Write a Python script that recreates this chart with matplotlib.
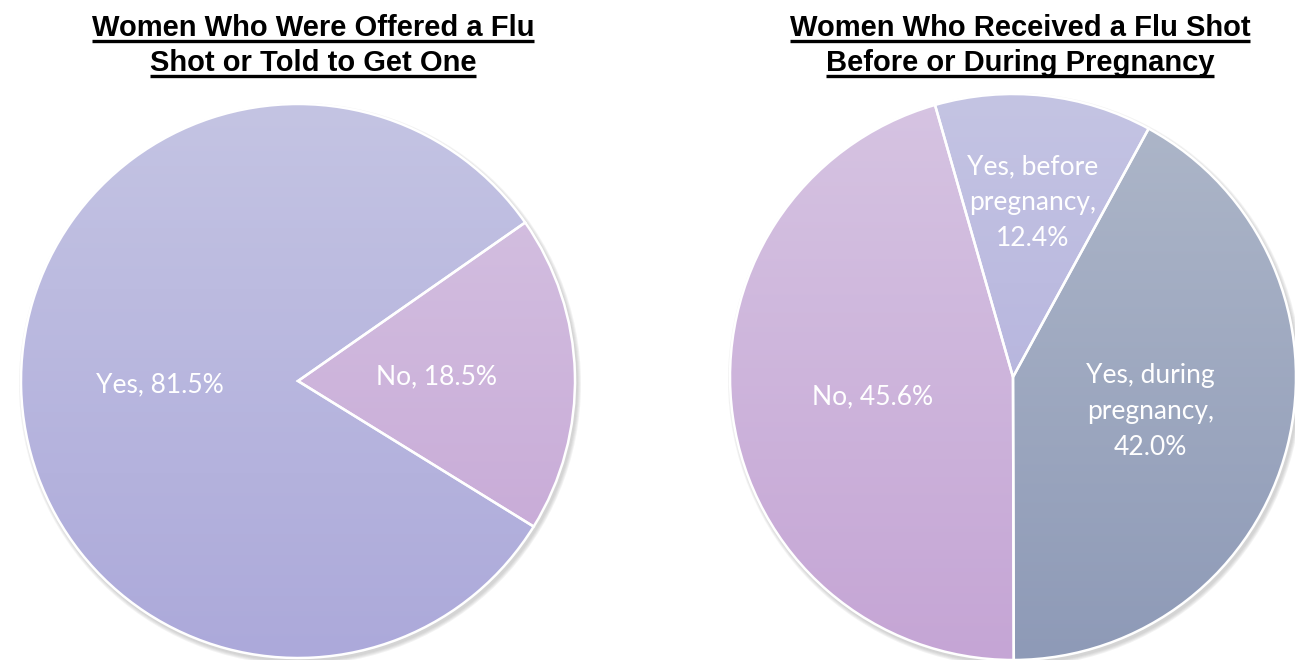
import matplotlib.pyplot as plt
import numpy as np
from matplotlib.patches import Circle
from matplotlib.colors import to_rgb

# data
offered_labels = ['Yes', 'No']
offered_values = [81.5, 18.5]
received_labels = ['Yes, before\npregnancy', 'Yes, during\npregnancy', 'No']
received_values = [12.4, 42.0, 45.6]

title_left = ['Women Who Were Offered a Flu', 'Shot or Told to Get One']
title_right = ['Women Who Received a Flu Shot', 'Before or During Pregnancy']

# top / bottom colour of each slice gradient
lavender = ('#c4c4e3', '#aca9da')
lilac = ('#d6c4e2', '#c5a5d5')
slate = ('#aeb7c9', '#8e9ab7')

fig = plt.figure(figsize=(12.95, 6.6), dpi=100)
ax = fig.add_axes([0, 0, 1, 1])


def gradient_fill(wedge, cx, cy, r, colors):
    t = np.linspace(0, 1, 256)[:, None]
    c0, c1 = np.array(to_rgb(colors[0])), np.array(to_rgb(colors[1]))
    img = (c0 * (1 - t) + c1 * t)[:, None, :]
    im = ax.imshow(img, extent=[cx - r, cx + r, cy - r, cy + r], origin='upper',
                   aspect='auto', interpolation='bilinear', zorder=1)
    im.set_clip_path(wedge)
    wedge.set_facecolor('none')
    wedge.set_zorder(2)


def draw_pie(values, labels, colors, cx, cy, r, start, label_dist):
    # soft shadow to the lower right
    for k in range(4):
        ax.add_patch(Circle((cx + 2, cy - 3), r + 1 + k, color='#9a9a9a',
                            alpha=0.12, lw=0, zorder=0))
    wedges, _ = ax.pie(values, center=(cx, cy), radius=r, startangle=start,
                       counterclock=False, frame=True,
                       wedgeprops=dict(edgecolor='white', linewidth=1.8))
    for w, col, lab, val, d in zip(wedges, colors, labels, values, label_dist):
        gradient_fill(w, cx, cy, r, col)
        ang = np.deg2rad((w.theta1 + w.theta2) / 2)
        sep = ',\n' if '\n' in lab else ', '
        ax.text(cx + d * r * np.cos(ang), cy + d * r * np.sin(ang),
                f'{lab}{sep}{val:.1f}%', color='white', fontsize=19,
                family='Lato', ha='center', va='center', linespacing=1.55,
                zorder=3)


def draw_title(lines, x, baselines):
    fig.canvas.draw()
    renderer = fig.canvas.get_renderer()
    for line, y in zip(lines, baselines):
        t = ax.text(x, y, line, fontsize=21, fontweight='bold',
                    family='Liberation Sans', ha='center', va='baseline')
        bb = t.get_window_extent(renderer).transformed(ax.transData.inverted())
        ax.plot([bb.x0, bb.x1], [y - 5, y - 5], color='black', lw=2.4,
                solid_capstyle='butt')


draw_pie(offered_values, offered_labels, [lavender, lilac],
         298, 279, 277, -31.7, [0.5, 0.5])
draw_pie(received_values, received_labels, [lavender, slate, lilac],
         1013, 283, 283, 106, [0.62, 0.5, 0.5])

ax.set_xlim(0, 1295)
ax.set_ylim(0, 660)
ax.set_aspect('equal')
ax.axis('off')

draw_title(title_left, 313, [624, 589])
draw_title(title_right, 1020, [624, 589])

fig.savefig('out.png', dpi=100)
